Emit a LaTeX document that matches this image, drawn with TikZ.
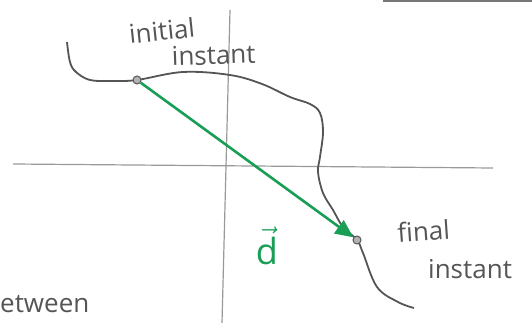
\documentclass[tikz,border=0pt]{standalone}
\usepackage{fix-cm}
\usepackage{fontspec}
\setmainfont{Open Sans}
\definecolor{pengreen}{RGB}{25,158,85}
\definecolor{pencil}{RGB}{85,85,85}
\usetikzlibrary{arrows.meta}

\begin{document}
\begin{tikzpicture}[x=1pt,y=-1pt,font=\fontsize{26}{30}\selectfont,
        axis/.style={draw=pencil!60,line width=1.2pt},
        track/.style={draw=pencil,line width=1.8pt},
        place/.style={circle,draw=pencil,fill=pencil!45,line width=1pt,inner sep=0pt,minimum size=8pt},
        disp/.style={draw=pengreen,line width=2.6pt,-{Triangle[length=18pt,width=16pt]}},
        hand/.style={text=pencil,inner sep=0pt}]
        \useasboundingbox (0,0) rectangle (532,323);
        \draw[axis] (13,164) -- (493,168);
        \draw[axis] (230,10) -- (222,323);
        \draw[pencil!80,line width=2pt] (383,1) -- (532,1);
        \draw[track] plot[smooth,tension=0.6] coordinates {(67,42) (70,62) (76,72) (90,80) (112,81)
          (137,80) (183,72) (230,75) (262,84) (290,97) (310,104) (320,113) (323,132)
          (320,157) (318,172) (323,193) (333,210) (343,227) (357,240) (363,253)
          (377,287) (398,302) (414,308)};
        \node[place] (init) at (137,80) {};
        \node[place] (fin) at (357,240) {};
        \draw[disp] (init) -- (fin);
        \node[text=pengreen,inner sep=0pt,font=\fontsize{36}{40}\selectfont] (d) at (267,246) {$\vec{\mathrm{d}}$};
        \node[hand,anchor=base west,rotate=6] (ini) at (130,44) {initial};
        \node[hand,anchor=base west,rotate=2] (ins1) at (172,66) {instant};
        \node[hand,anchor=base west,rotate=4] (fnl) at (398,243) {final};
        \node[hand,anchor=base west] (ins2) at (428,278) {instant};
        \node[hand,anchor=base west] (btw) at (0,312) {etween};
      \end{tikzpicture}
\end{document}
